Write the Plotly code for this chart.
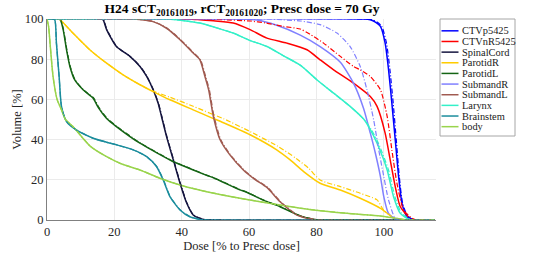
import plotly.graph_objects as go

FONT = "Liberation Serif"

names = ["CTVp5425", "CTVnR5425", "SpinalCord", "ParotidR", "ParotidL",
         "SubmandR", "SubmandL", "Larynx", "Brainstem", "body"]
colors = ["#0000FF", "#FF0000", "#15153F", "#FFCC00", "#146414",
          "#8080FF", "#A05A50", "#33F0C8", "#1A8C9C", "#99D44C"]

# ---- CTVp5425 ----
ctvp_dose_s = [0, 94, 96, 97.5, 99, 100.4, 101.4, 102.4, 103.4, 104.4, 105.4, 106.9, 108.9, 115]
ctvp_vol_s = [100, 100, 99.6, 98.5, 96.3, 88, 75, 58, 40, 21.6, 8.3, 1.6, 0, 0]
ctvp_dose_d = [0, 94.5, 96.5, 98, 99.4, 100.8, 101.8, 102.8, 103.7, 104.6, 105.6, 107.2, 109.2, 115]
ctvp_vol_d = [100, 100, 99.6, 98.5, 96.3, 88, 75, 58, 40, 21.6, 8.3, 1.6, 0, 0]

# ---- CTVnR5425 ----
ctvn_dose_s = [0, 42, 45.4, 50, 55.3, 60.3, 65.3, 71.2, 77.2, 81.1, 85.1, 91, 96, 98, 100.4, 101.9, 103.4, 104.9, 107.9, 110, 115]
ctvn_vol_s = [100, 100, 99.6, 99, 98, 94.7, 90.5, 88, 84.7, 79.7, 74.7, 68.1, 61.4, 56.5, 43.2, 29.9, 16.6, 6.6, 0.8, 0, 0]
ctvn_dose_d = [0, 48, 52, 60.3, 65, 70.2, 75.2, 78, 82.1, 87.1, 91, 93, 96, 99, 101, 102.4, 103.9, 105.9, 108.9, 111, 115]
ctvn_vol_d = [100, 100, 99.7, 99, 98, 96.3, 95, 92.5, 88, 81.4, 76.4, 74.7, 71.4, 64.8, 51.5, 34.9, 18.3, 5, 0.3, 0, 0]

# ---- SpinalCord ----
cord_dose_s = [0, 16, 16.7, 17.7, 20.6, 24.6, 27.6, 29.6, 31.5, 33, 34, 35.5, 37.5, 39.5, 41.5, 43.4, 46.4, 48, 115]
cord_vol_s = [100, 100, 99.5, 94.7, 86.3, 81.4, 76.4, 71.4, 64.8, 58.1, 51.5, 41.5, 29.9, 18.3, 8.3, 2.5, 0.3, 0, 0]
cord_dose_d = [0, 16.1, 16.8, 17.8, 20.7, 24.7, 27.7, 29.7, 31.6, 33.1, 34.1, 35.6, 37.6, 39.6, 41.6, 43.5, 46.5, 48, 115]
cord_vol_d = [100, 100, 99.5, 94.7, 86.3, 81.4, 76.4, 71.4, 64.8, 58.1, 51.5, 41.5, 29.9, 18.3, 8.3, 2.5, 0.3, 0, 0]

# ---- ParotidR ----
parr_dose_s = [0, 3.5, 4, 7.7, 12.7, 17.7, 22.6, 27.6, 31.5, 36.5, 43.4, 48.4, 52.4, 60.3, 68.2, 72.2, 76.2, 81.1, 87.1, 93, 99, 103, 105, 115]
parr_vol_s = [100, 100, 99.5, 93, 84.7, 78, 72.2, 67.3, 63.9, 59.8, 54.8, 51.2, 48.4, 42.4, 34.9, 29.9, 24.1, 18.3, 14.9, 10.8, 5.8, 1, 0, 0]
parr_dose_d = [0, 3.5, 4, 7.7, 12.7, 17.7, 22.6, 27.6, 31.5, 36.5, 43.4, 48.4, 52.4, 60.3, 68.4, 74, 77.7, 81.1, 87.1, 93, 98, 99.9, 103, 105, 115]
parr_vol_d = [100, 100, 99.5, 93, 84.7, 78, 72.2, 67.3, 64.1, 61.1, 56.6, 53.1, 50.4, 44, 36.8, 30.6, 25.7, 19.9, 16.6, 13.3, 10, 5, 1, 0, 0]

# ---- ParotidL ----
parl_dose_s = [0, 3.5, 4, 4.8, 5.8, 6.8, 8.2, 10.7, 13.7, 15.2, 17.7, 20.6, 27.6, 37.5, 39.5, 47.4, 49.4, 57.3, 59.3, 64, 69.2, 75.2, 79.2, 81, 115]
parl_vol_s = [100, 100, 99.5, 94.7, 84.7, 76.4, 69.8, 64.8, 60.6, 56, 50.5, 46.5, 38.2, 29, 27.6, 22.2, 21, 15, 13.8, 10, 6.6, 2, 0.3, 0, 0]
parl_dose_d = [0, 3.6, 4.1, 4.9, 5.9, 6.9, 8.3, 10.8, 13.9, 15.4, 17.9, 20.8, 27.8, 37.7, 39.7, 47.6, 49.6, 57.5, 59.5, 64.2, 69.4, 75.4, 79.4, 81, 115]
parl_vol_d = [100, 100, 99.5, 94.7, 84.7, 76.4, 69.8, 64.8, 60.6, 56, 50.5, 46.5, 38.2, 29, 27.6, 22.2, 21, 15, 13.8, 10, 6.6, 2, 0.3, 0, 0]

# ---- SubmandR ----
submr_dose_s = [0, 58, 62.3, 68, 75.2, 81.1, 87.1, 91, 94, 96, 97.5, 99, 100, 101.4, 103.9, 115]
submr_vol_s = [100, 100, 99.5, 97, 92, 86.3, 78.5, 68.1, 55.5, 43.2, 33.2, 21.6, 11.6, 3.3, 0, 0]
submr_dose_d = [0, 65, 70, 75.2, 81.1, 86.1, 90, 93, 95, 97, 98.5, 100, 101.4, 103.4, 105, 115]
submr_vol_d = [100, 100, 99.6, 99, 97.2, 93, 86.3, 76.4, 64.8, 49.8, 34.9, 21.6, 10, 0.8, 0, 0]

# ---- SubmandL ----
subml_dose_s = [0, 26, 27.6, 31.5, 35.5, 39.5, 43.4, 45.4, 46.9, 48, 49.4, 51.4, 54.3, 58.3, 61.5, 65.3, 69.2, 74.2, 79.2, 81, 115]
subml_vol_s = [100, 100, 99.7, 98.7, 95.4, 89.7, 83.1, 79.7, 71.4, 64.8, 51.5, 39.9, 32.4, 24.9, 20.5, 16.2, 9.1, 2.5, 0.3, 0, 0]
subml_dose_d = [0, 26.2, 27.8, 31.7, 35.7, 39.7, 43.6, 45.6, 47.1, 48.2, 49.6, 51.6, 54.5, 58.5, 61.7, 65.5, 69.4, 74.4, 79.4, 81, 115]
subml_vol_d = [100, 100, 99.7, 98.7, 95.4, 89.7, 83.1, 79.7, 71.4, 64.8, 51.5, 39.9, 32.4, 24.9, 20.5, 16.2, 9.1, 2.5, 0.3, 0, 0]

# ---- Larynx ----
lar_dose_s = [0, 36, 40, 45.4, 50, 55.3, 60, 65.3, 70.2, 75.2, 80.1, 85.1, 90, 94, 96, 98, 101, 102.9, 104.9, 107.9, 115]
lar_vol_s = [100, 100, 99.3, 98, 95.8, 93, 89.5, 86.3, 81.7, 77, 69.8, 63.1, 56.5, 50.2, 45, 38.2, 24.9, 11.6, 3.3, 0, 0]
lar_dose_d = [0, 36, 40, 45.4, 50, 55.3, 60, 65.3, 70.2, 75.2, 80.1, 85.1, 90, 94, 96.3, 98.4, 101.4, 103.3, 105.3, 108.3, 115]
lar_vol_d = [100, 100, 99.3, 98, 95.8, 93, 89.5, 86.3, 81.7, 77, 69.8, 63.1, 56.5, 50.2, 45, 38.2, 24.9, 11.6, 3.3, 0, 0]

# ---- Brainstem ----
bs_dose_s = [0, 1.5, 2.3, 2.8, 3.6, 4.3, 5.8, 8.7, 13.7, 17.7, 20.6, 25.6, 29.6, 32.5, 34.5, 36.5, 39.5, 42.4, 45.4, 48, 115]
bs_vol_s = [100, 100, 99.6, 88, 71.4, 56.5, 49, 44.8, 40.7, 38.7, 37.4, 34.9, 31.5, 26.6, 19.9, 11.6, 5, 1.6, 0.3, 0, 0]
bs_dose_d = [0, 1.5, 2.3, 2.8, 3.6, 4.3, 5.8, 8.7, 13.7, 17.7, 20.6, 25.6, 29.6, 32.6, 34.6, 36.6, 39.6, 42.5, 45.5, 48, 115]
bs_vol_d = [100, 100, 99.6, 88, 71.4, 56.5, 49, 44.8, 40.7, 38.7, 37.4, 34.9, 31.5, 26.6, 19.9, 11.6, 5, 1.6, 0.3, 0, 0]

# ---- body ----
body_dose_s = [0, 0.5, 0.9, 1.8, 3, 4.3, 5.5, 7.7, 10, 13, 17.7, 22, 27.6, 33.5, 40.5, 47.4, 57.3, 69.2, 79.2, 89.1, 99, 103, 107, 115]
body_vol_s = [100, 96, 88, 71.4, 60, 54.8, 50, 46.5, 42, 36.5, 31.5, 28, 24.9, 20.8, 16.9, 14.1, 10.8, 7.5, 5, 3.3, 2.0, 1.0, 0, 0]
body_dose_d = [0, 0.5, 0.9, 1.8, 3, 4.3, 5.5, 7.7, 10, 13, 17.7, 22, 27.6, 33.5, 40.5, 47.4, 57.3, 69.2, 79.2, 89.1, 99, 103.3, 107.3, 115]
body_vol_d = [100, 96, 88, 71.4, 60, 54.8, 50, 46.5, 42, 36.5, 31.5, 28, 24.9, 20.8, 16.9, 14.1, 10.8, 7.5, 5, 3.3, 2.0, 1.0, 0, 0]

solid_sets = [(ctvp_dose_s, ctvp_vol_s), (ctvn_dose_s, ctvn_vol_s), (cord_dose_s, cord_vol_s),
              (parr_dose_s, parr_vol_s), (parl_dose_s, parl_vol_s), (submr_dose_s, submr_vol_s),
              (subml_dose_s, subml_vol_s), (lar_dose_s, lar_vol_s), (bs_dose_s, bs_vol_s),
              (body_dose_s, body_vol_s)]
dash_sets = [(ctvp_dose_d, ctvp_vol_d), (ctvn_dose_d, ctvn_vol_d), (cord_dose_d, cord_vol_d),
             (parr_dose_d, parr_vol_d), (parl_dose_d, parl_vol_d), (submr_dose_d, submr_vol_d),
             (subml_dose_d, subml_vol_d), (lar_dose_d, lar_vol_d), (bs_dose_d, bs_vol_d),
             (body_dose_d, body_vol_d)]

x_ticks = [0, 20, 40, 60, 80, 100]
y_ticks = [0, 20, 40, 60, 80, 100]

# layout geometry (pixels)
W, H = 538, 253
ML, MR, MT, MB = 47, 102, 19, 33
PW, PH = W - ML - MR, H - MT - MB


def px_x(p):
    return (p - ML) / PW


def px_y(p):
    return (H - MB - p) / PH


fig = go.Figure()
for name, col, (xs, ys) in zip(names, colors, solid_sets):
    fig.add_trace(go.Scatter(x=xs, y=ys, mode="lines", name=name, showlegend=False,
                             line=dict(color=col, width=1.5, shape="spline", smoothing=0.6)))
for name, col, (xs, ys) in zip(names, colors, dash_sets):
    fig.add_trace(go.Scatter(x=xs, y=ys, mode="lines", name=name, showlegend=False,
                             line=dict(color=col, width=1.2, dash="5px,2px,1px,2px",
                                       shape="spline", smoothing=0.6)))

# legend box (drawn like the reference's compact MATLAB legend)
LEG_L, LEG_R, LEG_T, LEG_B = 440, 515, 19, 136
shapes = [dict(type="rect", xref="paper", yref="paper",
               x0=px_x(LEG_L), x1=px_x(LEG_R), y0=px_y(LEG_B), y1=px_y(LEG_T),
               line=dict(color="#a6a6a6", width=1), fillcolor="white", layer="above")]
annotations = []
step = (LEG_B - LEG_T - 10.5) / len(names)
for i, (name, col) in enumerate(zip(names, colors)):
    yc = LEG_T + 6.5 + step * (i + 0.5)
    shapes.append(dict(type="line", xref="paper", yref="paper",
                       x0=px_x(441.5), x1=px_x(458.5), y0=px_y(yc), y1=px_y(yc),
                       line=dict(color=col, width=1.5), layer="above"))
    annotations.append(dict(text=name, xref="paper", yref="paper", x=px_x(459.5), y=px_y(yc),
                            xanchor="left", yanchor="middle", showarrow=False,
                            font=dict(family=FONT, size=10.4, color="#1a1a1a")))

fig.update_layout(
    width=W, height=H,
    margin=dict(l=ML, r=MR, t=MT, b=MB, autoexpand=False),
    paper_bgcolor="white", plot_bgcolor="white",
    font=dict(family=FONT, size=12, color="#262626"),
    title=dict(text="<b>H24 sCT<sub>20161019</sub>, rCT<sub>20161020</sub>; Presc dose = 70 Gy</b>",
               x=px_x(242), xref="paper", xanchor="center", y=1 - 8.5 / H, yanchor="middle",
               yref="container", pad=dict(t=0, b=0),
               font=dict(family=FONT, size=13.5, color="black")),
    shapes=shapes,
    annotations=annotations,
    showlegend=False,
)
fig.update_xaxes(range=[0, 115.5], tickvals=x_ticks, showgrid=True, gridcolor="#ebebeb",
                 showline=True, linecolor="#808080", linewidth=1, zeroline=False,
                 ticks="", tickfont=dict(family=FONT, size=12.5),
                 title=dict(text="Dose [% to Presc dose]", font=dict(family=FONT, size=12.5), standoff=2))
fig.update_yaxes(range=[0, 100], tickvals=y_ticks, showgrid=True, gridcolor="#ebebeb",
                 showline=True, linecolor="#808080", linewidth=1, zeroline=False,
                 ticks="", tickfont=dict(family=FONT, size=12.5),
                 title=dict(text="Volume [%]", font=dict(family=FONT, size=12.5), standoff=0))

fig.write_html("out.html", config={"displayModeBar": False},
               post_script="document.body.style.margin='0';")
